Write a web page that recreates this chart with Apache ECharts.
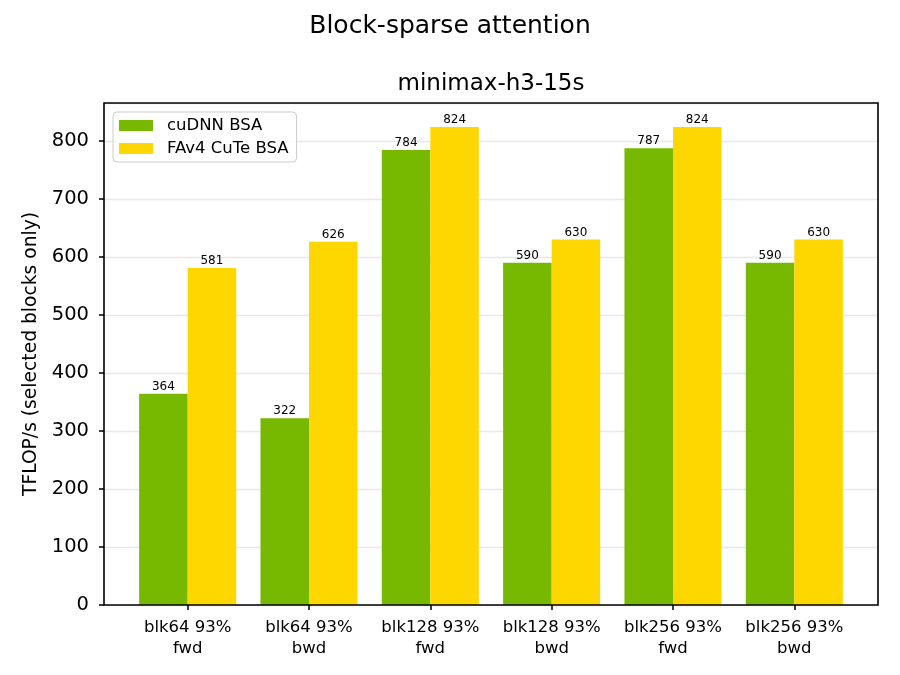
<!DOCTYPE html>
<html>
<head>
<meta charset="utf-8">
<script src="https://cdn.jsdelivr.net/npm/echarts@6/dist/echarts.min.js"></script>
<style>
  html, body { margin: 0; padding: 0; background: #fff; }
  #chart { width: 900px; height: 675px; }
</style>
</head>
<body>
<div id="chart"></div>
<script>
// categories and values
const categories = [
  'blk64 93%\nfwd', 'blk64 93%\nbwd',
  'blk128 93%\nfwd', 'blk128 93%\nbwd',
  'blk256 93%\nfwd', 'blk256 93%\nbwd'
]
const cudnnBSA = [364, 322, 784, 590, 787, 590]
const fav4BSA = [581, 626, 824, 630, 824, 630]
const yMax = 865.2

const font = 'DejaVu Sans'
const ink = '#000'

const myChart = echarts.init(document.getElementById('chart'))

const option = {
  animation: false,
  backgroundColor: '#fff',
  textStyle: { fontFamily: font },
  title: [
    {
      text: 'Block-sparse attention',
      left: 445, top: 9, textAlign: 'center',
      textStyle: { fontFamily: font, fontSize: 25, fontWeight: 'normal', color: ink }
    },
    {
      text: 'minimax-h3-15s',
      left: 486, top: 68, textAlign: 'center',
      textStyle: { fontFamily: font, fontSize: 23, fontWeight: 'normal', color: ink }
    }
  ],
  legend: {
    orient: 'vertical',
    left: 113, top: 112,
    padding: [5, 8, 5, 6],
    itemWidth: 34, itemHeight: 11, itemGap: 6,
    icon: 'rect',
    backgroundColor: 'rgba(255,255,255,0.8)',
    borderColor: '#cccccc', borderWidth: 1, borderRadius: 4,
    textStyle: { fontFamily: font, fontSize: 16.5, color: ink, padding: [0, 0, 0, 9] },
    data: ['cuDNN BSA', 'FAv4 CuTe BSA']
  },
  grid: [
    // full plot frame with grid lines
    { left: 104, right: 22, top: 103, bottom: 70, show: true, borderColor: '#000', borderWidth: 1.6, z: 5, containLabel: false },
    // bar area, narrower so category margins match the reference
    { left: 127, right: 45, top: 103, bottom: 70, containLabel: false }
  ],
  xAxis: [
    { gridIndex: 0, type: 'value', min: 0, max: 1, show: false },
    {
      gridIndex: 1, type: 'category', data: categories,
      axisLine: { show: false },
      axisTick: { show: true, alignWithLabel: true, length: 5, lineStyle: { color: '#000', width: 1.5 } },
      axisLabel: { fontFamily: font, fontSize: 16.5, color: ink, lineHeight: 21, margin: 12, interval: 0 }
    }
  ],
  yAxis: [
    {
      gridIndex: 0, type: 'value', min: 0, max: yMax, interval: 100,
      axisLine: { show: false }, axisTick: { show: false }, axisLabel: { show: false },
      splitLine: { show: true, lineStyle: { color: '#e8e8e8', width: 1.3 } }
    },
    {
      gridIndex: 1, type: 'value', min: 0, max: yMax, interval: 100, offset: 23,
      name: 'TFLOP/s (selected blocks only)',
      nameLocation: 'middle', nameGap: 60,
      nameTextStyle: { fontFamily: font, fontSize: 18.7, color: ink },
      axisLine: { show: false },
      axisTick: { show: true, length: 5, lineStyle: { color: '#000', width: 1.5 } },
      axisLabel: { fontFamily: font, fontSize: 19.5, color: ink, margin: 15, showMaxLabel: false },
      splitLine: { show: false }
    }
  ],
  series: [
    {
      name: 'cuDNN BSA', type: 'bar', xAxisIndex: 1, yAxisIndex: 1,
      data: cudnnBSA, barWidth: '40%', barGap: '0%',
      itemStyle: { color: '#76b900' },
      label: { show: true, position: 'top', distance: 1, fontFamily: font, fontSize: 12, color: ink }
    },
    {
      name: 'FAv4 CuTe BSA', type: 'bar', xAxisIndex: 1, yAxisIndex: 1,
      data: fav4BSA, barWidth: '40%', barGap: '0%',
      itemStyle: { color: '#ffd700' },
      label: { show: true, position: 'top', distance: 1, fontFamily: font, fontSize: 12, color: ink }
    }
  ]
}

myChart.setOption(option)
</script>
</body>
</html>
